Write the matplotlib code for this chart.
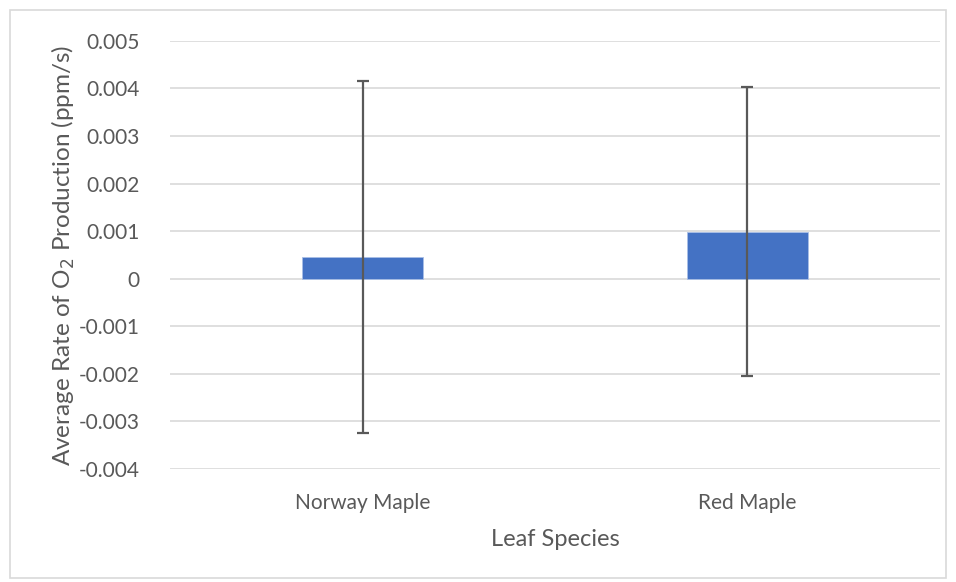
import matplotlib
matplotlib.use("Agg")
import matplotlib.pyplot as plt
from matplotlib.patches import Rectangle

# data
species = ["Norway Maple", "Red Maple"]
mean_rate = [0.00045, 0.00099]
err_rate = [0.0037, 0.00303]
yticks = [-0.004, -0.003, -0.002, -0.001, 0, 0.001, 0.002, 0.003, 0.004, 0.005]
ytick_labels = ["-0.004", "-0.003", "-0.002", "-0.001", "0", "0.001", "0.002", "0.003", "0.004", "0.005"]

plt.rcParams['font.family'] = ['Lato', 'DejaVu Sans']
grey = '#595959'

fig = plt.figure(figsize=(9.56, 5.82), dpi=100)
ax = fig.add_axes([0.178, 0.194, 0.805, 0.736])

x = range(len(species))
ax.bar(x, mean_rate, width=0.315, color='#4472C4', edgecolor='#A9BFE6', linewidth=0.6, zorder=2)
ax.errorbar(x, mean_rate, yerr=err_rate, fmt='none', ecolor='#595959',
            elinewidth=1.6, capsize=4, capthick=1.6, zorder=3)

ax.set_xlim(-0.5, 1.5)
ax.set_ylim(-0.004, 0.005)
ax.set_yticks(yticks)
ax.set_yticklabels(ytick_labels)
ax.set_xticks(list(x))
ax.set_xticklabels(species)
ax.grid(axis='y', color='#D9D9D9', linewidth=1.2, zorder=0)
ax.set_axisbelow(True)
for s in ax.spines.values():
    s.set_visible(False)
ax.tick_params(length=0, colors=grey, labelsize=15)
ax.tick_params(axis='y', pad=22)
ax.tick_params(axis='x', pad=17)

ax.set_ylabel("Average Rate of O$_2$ Production (ppm/s)", color=grey, fontsize=17.5, labelpad=1)
ax.set_xlabel("Leaf Species", color=grey, fontsize=17, labelpad=12)

fig.patches.append(Rectangle((10 / 956, 4 / 582), 936 / 956, 568 / 582, transform=fig.transFigure,
                             fill=False, edgecolor='#D9D9D9', linewidth=1.2))

fig.savefig("out.png", dpi=100)
